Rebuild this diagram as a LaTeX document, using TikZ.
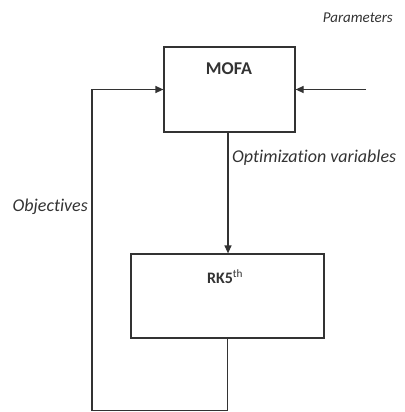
\documentclass[tikz,border=0pt]{standalone}
\usepackage{fontspec}
\setmainfont[Ligatures=NoCommon]{Carlito}
\usetikzlibrary{arrows.meta}
\definecolor{ink}{gray}{0.2}
\begin{document}
\begin{tikzpicture}[x=1pt,y=-1pt,
  box/.style={draw=ink, line width=1.2pt, inner sep=0pt},
  lbl/.style={font=\fontsize{18}{21}\selectfont\itshape, text=ink, inner sep=0pt},
  ttl/.style={font=\fontsize{18}{21}\selectfont\bfseries, text=ink, inner sep=0pt},
  arr/.style={draw=ink, line width=1.2pt, -{Triangle[length=8pt,width=7pt]}},
  ln/.style={draw=ink, line width=1.2pt}]
\useasboundingbox (0,0) rectangle (404,412);
\node[box, minimum width=131pt, minimum height=85pt] (mofa) at (229.5,89.5) {};
\node[ttl] (mofat) at (229,69) {MOFA};
\node[box, minimum width=193pt, minimum height=84pt] (rk) at (227.5,296) {};
\node[ttl, font=\fontsize{16}{19}\selectfont\bfseries] (rkt) at (225,277) {RK5\textsuperscript{\mdseries th}};
\node[lbl, anchor=east, font=\fontsize{15}{18}\selectfont\itshape] (par) at (393,18) {Parameters};
\node[lbl, anchor=west] (opt) at (232,158) {Optimization variables};
\node[lbl, anchor=east] (obj) at (88,207) {Objectives};
\coordinate (pin) at (366,89.5);
\coordinate (fb) at (92,410.5);
\draw[arr] (pin) -- (mofa.east);
\draw[arr] (mofa.south -| 228,0) -- (rk.north -| 228,0);
\draw[ln] (rk.south) |- (fb);
\draw[arr] (fb) |- (mofa.west);
\end{tikzpicture}
\end{document}
